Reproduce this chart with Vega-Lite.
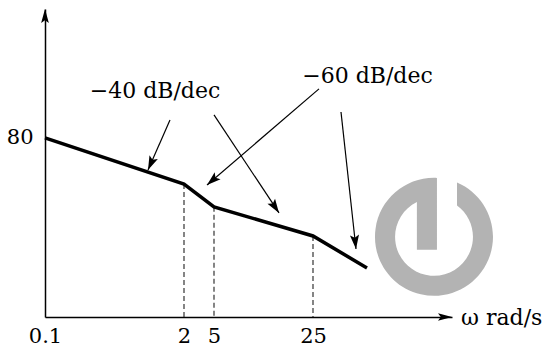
{
  "$schema": "https://vega.github.io/schema/vega-lite/v6.json",
  "width": 407,
  "height": 308,
  "autosize": {"type": "none"},
  "padding": {"left": 45, "top": 9, "right": 98, "bottom": 30},
  "background": "white",
  "config": {"view": {"stroke": null}, "font": "DejaVu Serif"},
  "datasets": {
    "wm": [{"w": 38.9, "db": 35.8}],
    "curve": [
      {"w": 0, "db": 80},
      {"w": 13.9, "db": 59.4},
      {"w": 16.9, "db": 49.2},
      {"w": 26.8, "db": 36.2},
      {"w": 32.2, "db": 21.9}
    ],
    "breaks": [
      {"w": 13.9, "db": 59.4},
      {"w": 16.9, "db": 49.2},
      {"w": 26.8, "db": 36.2}
    ],
    "arrows": [
      {"w": 12.5, "db": 88.0, "w2": 10.3, "db2": 65.7},
      {"w": 16.9, "db": 90.3, "w2": 23.4, "db2": 46.5},
      {"w": 27.4, "db": 101.9, "w2": 16.2, "db2": 59.0},
      {"w": 29.6, "db": 91.6, "w2": 31.1, "db2": 30.4}
    ],
    "tips": [
      {"w": 10.3, "db": 65.7, "ang": 203.8},
      {"w": 23.4, "db": 46.5, "ang": 146.4},
      {"w": 16.2, "db": 59.0, "ang": 229.4},
      {"w": 31.1, "db": 30.4, "ang": 173.8}
    ],
    "axisheads": [
      {"w": 0, "db": 137.6, "ang": 0},
      {"w": 40.7, "db": 0, "ang": 90}
    ],
    "labels": [
      {"w": 11.0, "db": 97.9, "t": "−40 dB/dec"},
      {"w": 32.25, "db": 104.7, "t": "−60 dB/dec"}
    ],
    "xlabel": [{"w": 41.6, "db": -3.6, "t": "ω rad/s"}]
  },
  "encoding": {
    "x": {
      "field": "w", "type": "quantitative",
      "scale": {"domain": [0, 40.7], "nice": false, "zero": false},
      "axis": {
        "values": [0, 13.9, 16.9, 26.8],
        "labelExpr": "datum.value == 0 ? '0.1' : datum.value == 13.9 ? '2' : datum.value == 16.9 ? '5' : '25'",
        "ticks": false, "grid": false, "title": null,
        "domainColor": "black", "domainWidth": 1.5,
        "labelFont": "DejaVu Serif", "labelFontSize": 21, "labelColor": "black",
        "labelPadding": 8, "labelFlush": false, "labelOverlap": false
      }
    },
    "y": {
      "field": "db", "type": "quantitative",
      "scale": {"domain": [0, 137.6], "nice": false, "zero": false},
      "axis": {
        "values": [80],
        "ticks": false, "grid": false, "title": null,
        "domainColor": "black", "domainWidth": 1.5,
        "labelFont": "DejaVu Serif", "labelFontSize": 21, "labelColor": "black",
        "labelPadding": 12
      }
    }
  },
  "layer": [
    {
      "data": {"name": "wm"},
      "mark": {
        "type": "point",
        "shape": "M0.39,-0.921A1,1 0 1,1 0.05,-0.999L0.05,0.22L-0.29,0.22L-0.29,-0.593A0.66,0.66 0 1,0 0.39,-0.533Z",
        "filled": true,
        "color": "#b3b3b3",
        "opacity": 1,
        "size": 13924,
        "strokeWidth": 0
      }
    },
    {
      "data": {"name": "breaks"},
      "mark": {"type": "rule", "strokeDash": [5, 3], "strokeWidth": 1.1, "color": "#222"},
      "encoding": {
        "y2": {"datum": 0}
      }
    },
    {
      "data": {"name": "curve"},
      "mark": {"type": "line", "strokeWidth": 3.5, "color": "black", "strokeJoin": "miter", "strokeCap": "butt"}
    },
    {
      "data": {"name": "arrows"},
      "mark": {"type": "rule", "strokeWidth": 1.2, "color": "black"},
      "encoding": {
        "x2": {"field": "w2"},
        "y2": {"field": "db2"}
      }
    },
    {
      "data": {"name": "tips"},
      "mark": {"type": "point", "shape": "M0,0L0.65,2L0,1.6L-0.65,2Z", "filled": true, "color": "black", "opacity": 1, "size": 196, "strokeWidth": 0},
      "encoding": {
        "angle": {"field": "ang", "type": "quantitative", "scale": null}
      }
    },
    {
      "data": {"name": "axisheads"},
      "mark": {"type": "point", "shape": "M0,0L0.55,2L0,1.6L-0.55,2Z", "filled": true, "color": "black", "opacity": 1, "size": 196, "strokeWidth": 0},
      "encoding": {
        "angle": {"field": "ang", "type": "quantitative", "scale": null}
      }
    },
    {
      "data": {"name": "labels"},
      "mark": {"type": "text", "font": "DejaVu Serif", "fontSize": 22, "align": "center", "baseline": "alphabetic", "color": "black"},
      "encoding": {
        "text": {"field": "t"}
      }
    },
    {
      "data": {"name": "xlabel"},
      "mark": {"type": "text", "font": "DejaVu Serif", "fontSize": 22, "align": "left", "baseline": "alphabetic", "color": "black"},
      "encoding": {
        "text": {"field": "t"}
      }
    }
  ]
}
